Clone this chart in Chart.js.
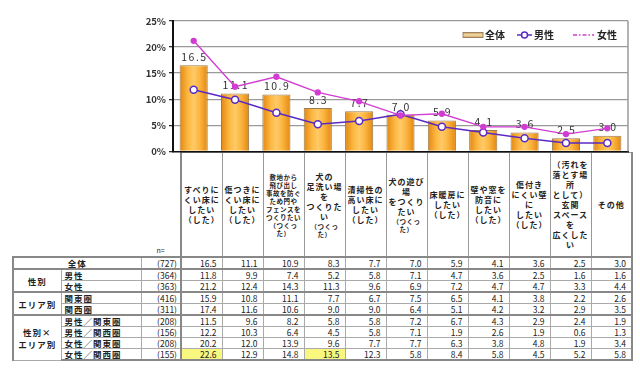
<!DOCTYPE html>
<html><head><meta charset="utf-8">
<script src="https://cdn.jsdelivr.net/npm/chart.js@4.4.0/dist/chart.umd.min.js"></script>
<style>
html,body{margin:0;padding:0;background:#fff;width:640px;height:368px;overflow:hidden;font-family:"Noto Sans CJK JP","Noto Sans",sans-serif;}
#chartBox{position:absolute;left:0;top:0;width:640px;height:160px;z-index:2;}
#tbl{position:absolute;left:12px;top:152px;border-collapse:collapse;table-layout:fixed;width:619px;color:#222;z-index:1;}
#tbl td{padding:0;overflow:hidden;white-space:nowrap;vertical-align:middle;}
#tbl td > div{overflow:hidden;}
#tbl tr.hdr td > div{height:103px;display:flex;flex-direction:column;justify-content:center;align-items:center;}
#tbl tr.hdr td.cat{border:1px solid #999;text-align:center;font-weight:bold;font-size:8px;line-height:10px;letter-spacing:1px;white-space:nowrap;}
#tbl tr.hdr td.cat .ln{display:block;height:10px;}
#tbl tr.hdr td.cat .sm{font-size:6.5px;line-height:8px;height:8px;letter-spacing:0.5px;}
#tbl tr.hdr td.cat.first{border-left:2px solid #888;}
#tbl tr.hdr td.nlab > div{justify-content:flex-end;font-size:7px;line-height:9px;padding-bottom:1px;box-sizing:border-box;}
#tbl tr.dr td{font-size:8.5px;border:1px solid #aaa;}
#tbl tr.dr td > div{height:10px;line-height:10px;}
#tbl tr.dr td.num > div{text-align:right;padding-right:5px;}
#tbl tr.dr td.n > div{text-align:right;padding-right:3px;}
#tbl tr.dr td.lab > div{font-weight:bold;padding-left:3px;letter-spacing:1px;}
#tbl tr.dr td.grp{font-weight:bold;text-align:center;letter-spacing:1px;line-height:12px;}
#tbl tr.dr td.tot > div{font-weight:bold;text-align:center;letter-spacing:1px;}
#tbl tr.gtop td{border-top:2px solid #888;}
#tbl tr.last td{border-bottom:2px solid #888;}
#tbl td.firstcol{border-left:2px solid #888 !important;}
#tbl td.lastcol{border-right:2px solid #888 !important;}
#tbl td.datastart{border-left:2px solid #888 !important;}
#tbl td.hi{background:#F8F880;}
</style></head>
<body>
<div id="chartBox"><canvas id="c"></canvas></div>
<table id="tbl"><colgroup id="cg"></colgroup><tbody id="tb"></tbody></table>
<script>
// ---- data ----
const categories = ['すべりにくい床にしたい（した）','傷つきにくい床にしたい（した）','敷地から飛び出し事故を防ぐため門やフェンスをつくりたい（つくった）','犬の足洗い場をつくりたい（つくった）','清掃性の高い床にしたい（した）','犬の遊び場をつくりたい（つくった）','床暖房にしたい（した）','壁や窓を防音にしたい（した）','傷付きにくい壁にしたい（した）','（汚れを落とす場所として）玄関スペースを広くしたい','その他'];
const headerLines = [
  ['すべりに','くい床に','したい','（した）'],
  ['傷つきに','くい床に','したい','（した）'],
  ['敷地から','飛び出し','事故を防ぐ','ため門や','フェンスを','つくりたい','（つくっ','た）'],
  ['犬の','足洗い場','を','つくりた','い','（つくっ','た）'],
  ['清掃性の','高い床に','したい','（した）'],
  ['犬の遊び','場','をつくり','たい','（つくっ','た）'],
  ['床暖房に','したい','（した）'],
  ['壁や窓を','防音に','したい','（した）'],
  ['傷付き','にくい壁','に','したい','（した）'],
  ['（汚れを','落とす場','所','として）','玄関','スペース','を','広くした','い'],
  ['その他']
];
const headerSmallFrom = [null,null,0,5,null,4,null,null,null,null,null];
const seriesLabels = ['全体','男性','女性'];
const totalValues  = [16.5,11.1,10.9,8.3,7.7,7.0,5.9,4.1,3.6,2.5,3.0];
const maleValues   = [11.8,9.9,7.4,5.2,5.8,7.1,4.7,3.6,2.5,1.6,1.6];
const femaleValues = [21.2,12.4,14.3,11.3,9.6,6.9,7.2,4.7,4.7,3.3,4.4];
const kantoValues  = [15.9,10.8,11.1,7.7,6.7,7.5,6.5,4.1,3.8,2.2,2.6];
const kansaiValues = [17.4,11.6,10.6,9.0,9.0,6.4,5.1,4.2,3.2,2.9,3.5];
const maleKantoValues    = [11.5,9.6,8.2,5.8,5.8,7.2,6.7,4.3,2.9,2.4,1.9];
const maleKansaiValues   = [12.2,10.3,6.4,4.5,5.8,7.1,1.9,2.6,1.9,0.6,1.3];
const femaleKantoValues  = [20.2,12.0,13.9,9.6,7.7,7.7,6.3,3.8,4.8,1.9,3.4];
const femaleKansaiValues = [22.6,12.9,14.8,13.5,12.3,5.8,8.4,5.8,4.5,5.2,5.8];
const rowLabels   = ['全体','男性','女性','関東圏','関西圏','男性／関東圏','男性／関西圏','女性／関東圏','女性／関西圏'];
const groupLabels = ['性別','エリア別','性別×<br>エリア別'];
const sampleSizes = [727,364,363,416,311,208,156,208,155];
const yTicks = [0,5,10,15,20,25];
const highlighted = [[8,0],[8,3]];

// ---- table ----
const cg = document.getElementById('cg');
[48,80,40].concat(categories.map(()=>41)).forEach(w=>{const c=document.createElement('col');c.style.width=w+'px';cg.appendChild(c);});
const tb = document.getElementById('tb');
let hdr = '<tr class="hdr"><td><div></div></td><td><div></div></td><td class="nlab"><div>n=</div></td>';
headerLines.forEach((lines,i)=>{
  const sf = headerSmallFrom[i];
  const html = lines.map((l,j)=> '<span class="ln'+((sf!==null && j>=sf)?' sm':'')+'">'+l+'</span>').join('');
  hdr += '<td class="cat'+(i===0?' first':'')+(i===headerLines.length-1?' lastcol':'')+'"><div>'+html+'</div></td>';
});
hdr += '</tr>';
const allRows = [totalValues,maleValues,femaleValues,kantoValues,kansaiValues,maleKantoValues,maleKansaiValues,femaleKantoValues,femaleKansaiValues];
let body = hdr;
allRows.forEach((vals,r)=>{
  const gtop = (r===0||r===1||r===3||r===5);
  let cls = 'dr'+(gtop?' gtop':'')+(r===allRows.length-1?' last':'');
  let s = '<tr class="'+cls+'">';
  if(r===0) s += '<td class="tot firstcol" colspan="2"><div>'+rowLabels[r]+'</div></td>';
  else {
    if(r===1) s += '<td class="grp firstcol" rowspan="2">'+groupLabels[0]+'</td>';
    if(r===3) s += '<td class="grp firstcol" rowspan="2">'+groupLabels[1]+'</td>';
    if(r===5) s += '<td class="grp firstcol" rowspan="4">'+groupLabels[2]+'</td>';
    s += '<td class="lab"><div>'+rowLabels[r]+'</div></td>';
  }
  s += '<td class="n"><div>('+sampleSizes[r]+')</div></td>';
  vals.forEach((v,c)=>{
    const hi = highlighted.some(h=>h[0]===r&&h[1]===c);
    s += '<td class="num'+(c===0?' datastart':'')+(c===vals.length-1?' lastcol':'')+(hi?' hi':'')+'"><div>'+v.toFixed(1)+'</div></td>';
  });
  s += '</tr>';
  body += s;
});
tb.innerHTML = body;

// ---- chart ----
const BAR_PCT = 0.68;
const FONT = '"Noto Sans CJK JP","Noto Sans",sans-serif';
function barGradient(ctx){
  const chart = ctx.chart; const xs = chart.scales && chart.scales.x;
  if(!chart.chartArea || !xs) return '#F5A623';
  const cx = xs.getPixelForValue(ctx.dataIndex);
  const hw = xs.width / categories.length * BAR_PCT / 2;
  const g = chart.ctx.createLinearGradient(cx-hw,0,cx+hw,0);
  g.addColorStop(0,'#E2870F');
  g.addColorStop(0.3,'#FDB843');
  g.addColorStop(0.5,'#FFCA66');
  g.addColorStop(0.72,'#FBB43E');
  g.addColorStop(1,'#E2870F');
  return g;
}
const barLabelPlugin = {
  id:'barLabels',
  afterDatasetDraw(chart,args){
    if(args.index!==0) return;
    const ctx = chart.ctx; ctx.save();
    ctx.font = '10.5px '+FONT; ctx.fillStyle='#333'; ctx.textAlign='center'; ctx.textBaseline='bottom';
    try{ctx.letterSpacing='1.5px';}catch(e){}
    args.meta.data.forEach((el,i)=>{ ctx.fillText(totalValues[i].toFixed(1), el.x+0.75, el.y-3); });
    ctx.restore();
  }
};
const frameLegendPlugin = {
  id:'frameLegend',
  beforeDatasetsDraw(chart){
    const a = chart.chartArea, ctx = chart.ctx; ctx.save();
    ctx.strokeStyle='#999'; ctx.lineWidth=1.5;
    ctx.beginPath(); ctx.moveTo(a.right,a.top); ctx.lineTo(a.right,a.bottom); ctx.stroke();
    ctx.restore();
  },
  afterDraw(chart){
    const ctx = chart.ctx, y = 35; ctx.save();
    const g = ctx.createLinearGradient(0,y-2.5,0,y+2.5);
    g.addColorStop(0,'#C9A063'); g.addColorStop(0.5,'#F6DDA8'); g.addColorStop(1,'#C9A063');
    ctx.fillStyle=g; ctx.fillRect(463,y-2.5,20,5);
    ctx.strokeStyle='#8A7050'; ctx.lineWidth=0.8; ctx.strokeRect(463,y-2.5,20,5);
    ctx.font='bold 10px '+FONT; ctx.fillStyle='#222'; ctx.textBaseline='middle'; ctx.textAlign='left';
    ctx.fillText(seriesLabels[0],485,y);
    ctx.strokeStyle='#5A2BC4'; ctx.lineWidth=1.5;
    ctx.beginPath(); ctx.moveTo(517,y); ctx.lineTo(532,y); ctx.stroke();
    ctx.fillStyle='#fff'; ctx.beginPath(); ctx.arc(524.5,y,3,0,Math.PI*2); ctx.fill(); ctx.stroke();
    ctx.fillStyle='#222'; ctx.fillText(seriesLabels[1],534,y);
    ctx.strokeStyle='#D23CD2'; ctx.lineWidth=1.3; ctx.setLineDash([4,2,1.5,2]);
    ctx.beginPath(); ctx.moveTo(573,y); ctx.lineTo(594,y); ctx.stroke(); ctx.setLineDash([]);
    ctx.fillStyle='#222'; ctx.fillText(seriesLabels[2],597,y);
    ctx.restore();
  }
};
new Chart(document.getElementById('c'),{
  data:{
    labels: categories,
    datasets:[
      {type:'bar',label:seriesLabels[0],data:totalValues,order:3,backgroundColor:barGradient,borderColor:'#9A7B52',borderWidth:1,barPercentage:BAR_PCT,categoryPercentage:1},
      {type:'line',label:seriesLabels[1],data:maleValues,order:2,borderColor:'#5A2BC4',borderWidth:1.5,pointRadius:3.5,pointBorderWidth:1.5,pointBackgroundColor:'#fff',pointBorderColor:'#5A2BC4',tension:0},
      {type:'line',label:seriesLabels[2],data:femaleValues,order:1,borderColor:'#D23CD2',borderWidth:1.3,pointRadius:2.5,pointBackgroundColor:'#D23CD2',pointBorderColor:'#D23CD2',tension:0}
    ]
  },
  options:{
    responsive:true, maintainAspectRatio:false, animation:false,
    layout:{padding:{left:0,top:21,right:12,bottom:5}},
    plugins:{legend:{display:false},tooltip:{enabled:false}},
    scales:{
      x:{type:'category',offset:true,ticks:{display:false},grid:{display:false,drawTicks:false},border:{display:true,color:'#111',width:1.5},
         afterFit(s){s.height=0;}},
      y:{min:0,max:25,afterBuildTicks(s){s.ticks=yTicks.map(v=>({value:v}));},
         ticks:{callback:v=>v+'%',font:{family:FONT,size:9.5,weight:'bold'},color:'#333',padding:3},
         grid:{color:c=>c.tick&&c.tick.value===0?'rgba(0,0,0,0)':'#9a9a9a',lineWidth:1.3,tickLength:4,tickColor:'#333'},
         border:{display:true,color:'#111',width:2},
         afterFit(s){s.width=173;}}
    }
  },
  plugins:[barLabelPlugin,frameLegendPlugin]
});
</script>
</body></html>
